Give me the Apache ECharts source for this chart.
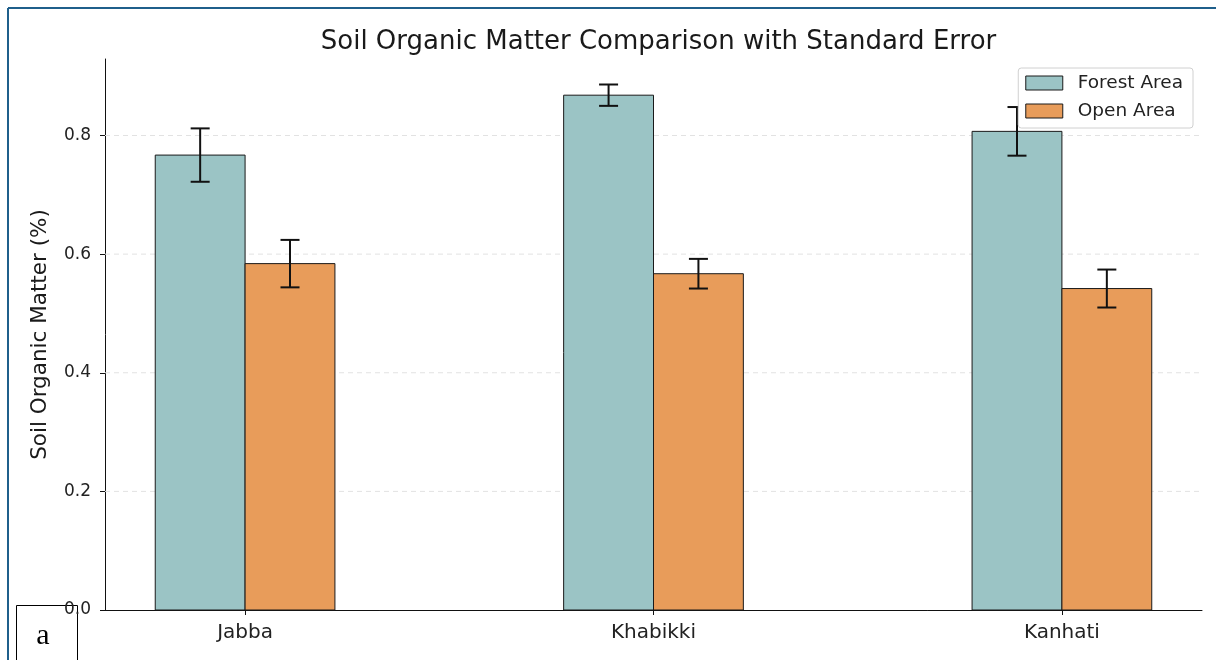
<!DOCTYPE html>
<html>
<head>
<meta charset="utf-8">
<script src="https://cdn.jsdelivr.net/npm/echarts@6/dist/echarts.min.js"></script>
<style>
  html, body { margin: 0; padding: 0; background: #fff; }
  #chart { width: 1216px; height: 660px; }
</style>
</head>
<body>
<div id="chart"></div>
<script>
// Sites and soil organic matter (%) means with standard errors
const sites = ['Jabba', 'Khabikki', 'Kanhati'];
const forestMean = [0.767, 0.868, 0.807];
const forestSE = [0.045, 0.018, 0.041];
const openMean = [0.584, 0.567, 0.542];
const openSE = [0.040, 0.025, 0.032];
const yTicks = [0, 0.2, 0.4, 0.6, 0.8];
const gridTicks = [0.2, 0.4, 0.6, 0.8];

const BAR_W = 0.22;
const X_MIN = -0.343;
const X_MAX = 2.343;
const FONT = 'DejaVu Sans';

function barRenderer(side) {
  return function (params, api) {
    const x = api.value(0);
    const mean = api.value(1);
    const se = api.value(2);
    const x0 = side < 0 ? x - BAR_W : x;
    const p0 = api.coord([x0, mean]);
    const p1 = api.coord([x0 + BAR_W, 0]);
    const cx = api.coord([x0 + BAR_W / 2, 0])[0];
    const yHi = api.coord([x, mean + se])[1];
    const yLo = api.coord([x, mean - se])[1];
    const cap = 9.5;
    const errStyle = { stroke: '#111', lineWidth: 2 };
    return {
      type: 'group',
      children: [
        {
          type: 'rect',
          shape: { x: p0[0], y: p0[1], width: p1[0] - p0[0], height: p1[1] - p0[1] },
          style: { fill: api.visual('color'), stroke: '#1a1a1a', lineWidth: 1 }
        },
        { type: 'line', z2: 5, shape: { x1: cx, y1: yHi, x2: cx, y2: yLo }, style: errStyle },
        { type: 'line', z2: 5, shape: { x1: cx - cap, y1: yHi, x2: cx + cap, y2: yHi }, style: errStyle },
        { type: 'line', z2: 5, shape: { x1: cx - cap, y1: yLo, x2: cx + cap, y2: yLo }, style: errStyle }
      ]
    };
  };
}

const chart = echarts.init(document.getElementById('chart'), null, { renderer: 'canvas' });

const option = {
  backgroundColor: '#fff',
  animation: false,
  title: {
    text: 'Soil Organic Matter Comparison with Standard Error',
    left: 653.5,
    textAlign: 'center',
    top: 24,
    textStyle: { fontFamily: FONT, fontSize: 26, fontWeight: 'normal', color: '#1a1a1a' }
  },
  legend: {
    data: ['Forest Area', 'Open Area'],
    orient: 'vertical',
    right: 23,
    top: 68,
    padding: [5, 10, 7, 7],
    itemWidth: 37,
    itemHeight: 14,
    itemGap: 8,
    icon: 'rect',
    backgroundColor: '#fff',
    borderColor: '#d0d0d0',
    borderWidth: 1,
    borderRadius: 3,
    textStyle: { fontFamily: FONT, fontSize: 18.5, lineHeight: 20, color: '#222', padding: [0, 0, 0, 10] },
    itemStyle: { borderColor: '#1a1a1a', borderWidth: 1 }
  },
  grid: { left: 105, right: 14, top: 59, bottom: 50, containLabel: false },
  xAxis: {
    type: 'value',
    min: X_MIN,
    max: X_MAX,
    splitLine: { show: false },
    axisLine: { show: true, onZero: true, lineStyle: { color: '#111', width: 1 } },
    axisTick: { show: true, length: 5, customValues: [0, 1, 2], lineStyle: { color: '#111' } },
    axisLabel: {
      customValues: [0, 1, 2],
      formatter: v => sites[Math.round(v)],
      fontFamily: FONT, fontSize: 20, color: '#222', margin: 13
    }
  },
  yAxis: {
    type: 'value',
    min: 0,
    max: 0.929,
    name: 'Soil Organic Matter (%)',
    nameLocation: 'middle',
    nameGap: 54,
    nameTextStyle: { fontFamily: FONT, fontSize: 21.5, color: '#1a1a1a' },
    splitLine: { show: false },
    axisLine: { show: true, onZero: false, lineStyle: { color: '#111', width: 1 } },
    axisTick: { show: true, length: 5, customValues: yTicks, lineStyle: { color: '#111' } },
    axisLabel: {
      customValues: yTicks,
      formatter: v => v.toFixed(1),
      fontFamily: FONT, fontSize: 17, color: '#222', margin: 14
    }
  },
  series: [
    {
      name: 'gridlines',
      type: 'custom',
      z: 1,
      silent: true,
      data: gridTicks.map(v => [v]),
      renderItem: function (params, api) {
        const v = api.value(0);
        const a = api.coord([X_MIN, v]);
        const b = api.coord([X_MAX, v]);
        return {
          type: 'line',
          shape: { x1: a[0], y1: a[1], x2: b[0], y2: b[1] },
          style: { stroke: '#e2e2e2', lineWidth: 1, lineDash: [5, 4] }
        };
      }
    },
    {
      name: 'Forest Area',
      type: 'custom',
      z: 3,
      itemStyle: { color: '#9bc4c5', borderColor: '#1a1a1a', borderWidth: 1 },
      data: sites.map((s, i) => [i, forestMean[i], forestSE[i]]),
      renderItem: barRenderer(-1)
    },
    {
      name: 'Open Area',
      type: 'custom',
      z: 3,
      itemStyle: { color: '#e89c5a', borderColor: '#1a1a1a', borderWidth: 1 },
      data: sites.map((s, i) => [i, openMean[i], openSE[i]]),
      renderItem: barRenderer(1)
    }
  ],
  graphic: [
    { type: 'line', z: 100, shape: { x1: 8, y1: 8, x2: 1216, y2: 8 }, style: { stroke: '#1f5f8b', lineWidth: 2 } },
    { type: 'line', z: 100, shape: { x1: 8, y1: 8, x2: 8, y2: 660 }, style: { stroke: '#1f5f8b', lineWidth: 2 } },
    {
      type: 'group', z: 100,
      children: [
        { type: 'rect', shape: { x: 16.5, y: 605.5, width: 61, height: 60 }, style: { fill: '#fff', stroke: '#000', lineWidth: 1 } },
        { type: 'text', x: 43, y: 636, style: { text: 'a', font: '30px "Liberation Serif", serif', fill: '#000', align: 'center', verticalAlign: 'middle' } }
      ]
    }
  ]
};

chart.setOption(option);
</script>
</body>
</html>
